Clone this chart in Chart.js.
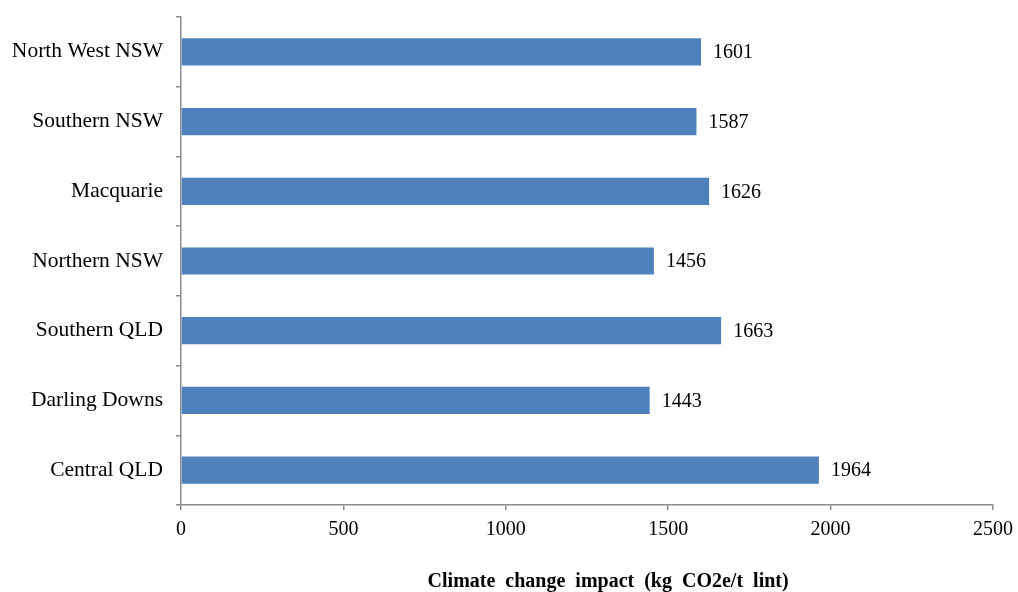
<!DOCTYPE html>
<html>
<head>
<meta charset="utf-8">
<script src="https://cdn.jsdelivr.net/npm/chart.js@4/dist/chart.umd.min.js"></script>
<style>
  html, body { margin: 0; padding: 0; background: #fff; }
  #wrap { width: 1018px; height: 592px; }
</style>
</head>
<body>
<div id="wrap"><canvas id="chart"></canvas></div>
<script>
// regions, top to bottom as in the picture
const regions = ["North West NSW", "Southern NSW", "Macquarie", "Northern NSW", "Southern QLD", "Darling Downs", "Central QLD"];
const impact = [1601, 1587, 1626, 1456, 1663, 1443, 1964];
const xTicks = [0, 500, 1000, 1500, 2000, 2500];
const axisTitle = "Climate  change  impact  (kg  CO2e/t  lint)";

const serif = "'Liberation Serif', 'Times New Roman', serif";
const axisGrey = "#8c8c8c";

// value labels to the right of each bar
const barLabels = {
    id: 'barLabels',
    afterDatasetsDraw(chart) {
        const ctx = chart.ctx;
        const meta = chart.getDatasetMeta(0);
        ctx.save();
        ctx.font = "20px " + serif;
        ctx.fillStyle = "#000";
        ctx.textAlign = "left";
        ctx.textBaseline = "middle";
        meta.data.forEach((bar, i) => {
            ctx.fillText(String(impact[i]), bar.x + 12, bar.y + 1);
        });
        ctx.restore();
    }
};

// axis title sits a bit right of centre in the original
const bottomTitle = {
    id: 'bottomTitle',
    afterDraw(chart) {
        const ctx = chart.ctx;
        const area = chart.chartArea;
        ctx.save();
        ctx.font = "bold 20px " + serif;
        ctx.fillStyle = "#000";
        ctx.textAlign = "center";
        ctx.textBaseline = "alphabetic";
        ctx.fillText(axisTitle, area.left + area.width * 0.526, 587);
        ctx.restore();
    }
};

new Chart(document.getElementById('chart').getContext('2d'), {
    type: 'bar',
    data: {
        labels: regions,
        datasets: [{
            data: impact,
            backgroundColor: "#4f81bd",
            borderWidth: 0,
            barPercentage: 0.39,
            categoryPercentage: 1
        }]
    },
    options: {
        indexAxis: 'y',
        responsive: true,
        maintainAspectRatio: false,
        animation: false,
        layout: { padding: { top: 17, right: 25, bottom: 0, left: 0 } },
        plugins: {
            legend: { display: false },
            tooltip: { enabled: false }
        },
        scales: {
            x: {
                min: 0,
                max: 2500,
                afterBuildTicks: (axis) => { axis.ticks = xTicks.map(v => ({ value: v })); },
                afterFit: (axis) => {
                    axis.height = 87;
                    axis.paddingLeft = 0;
                    axis.paddingRight = 0;
                },
                border: { color: axisGrey, width: 1.5 },
                grid: { drawOnChartArea: false, tickLength: 5, color: axisGrey, lineWidth: 1.5 },
                ticks: {
                    color: "#000",
                    padding: 8,
                    font: { family: serif, size: 20 },
                    callback: (v) => String(v)
                }
            },
            y: {
                offset: true,
                afterFit: (axis) => {
                    axis.width = 181;
                    axis.paddingTop = 0;
                    axis.paddingBottom = 0;
                },
                border: { color: axisGrey, width: 1.5 },
                grid: { offset: true, drawOnChartArea: false, tickLength: 5, color: axisGrey, lineWidth: 1.5 },
                ticks: { color: "#000", padding: 13, font: { family: serif, size: 21.5 } }
            }
        }
    },
    plugins: [barLabels, bottomTitle]
});
</script>
</body>
</html>
